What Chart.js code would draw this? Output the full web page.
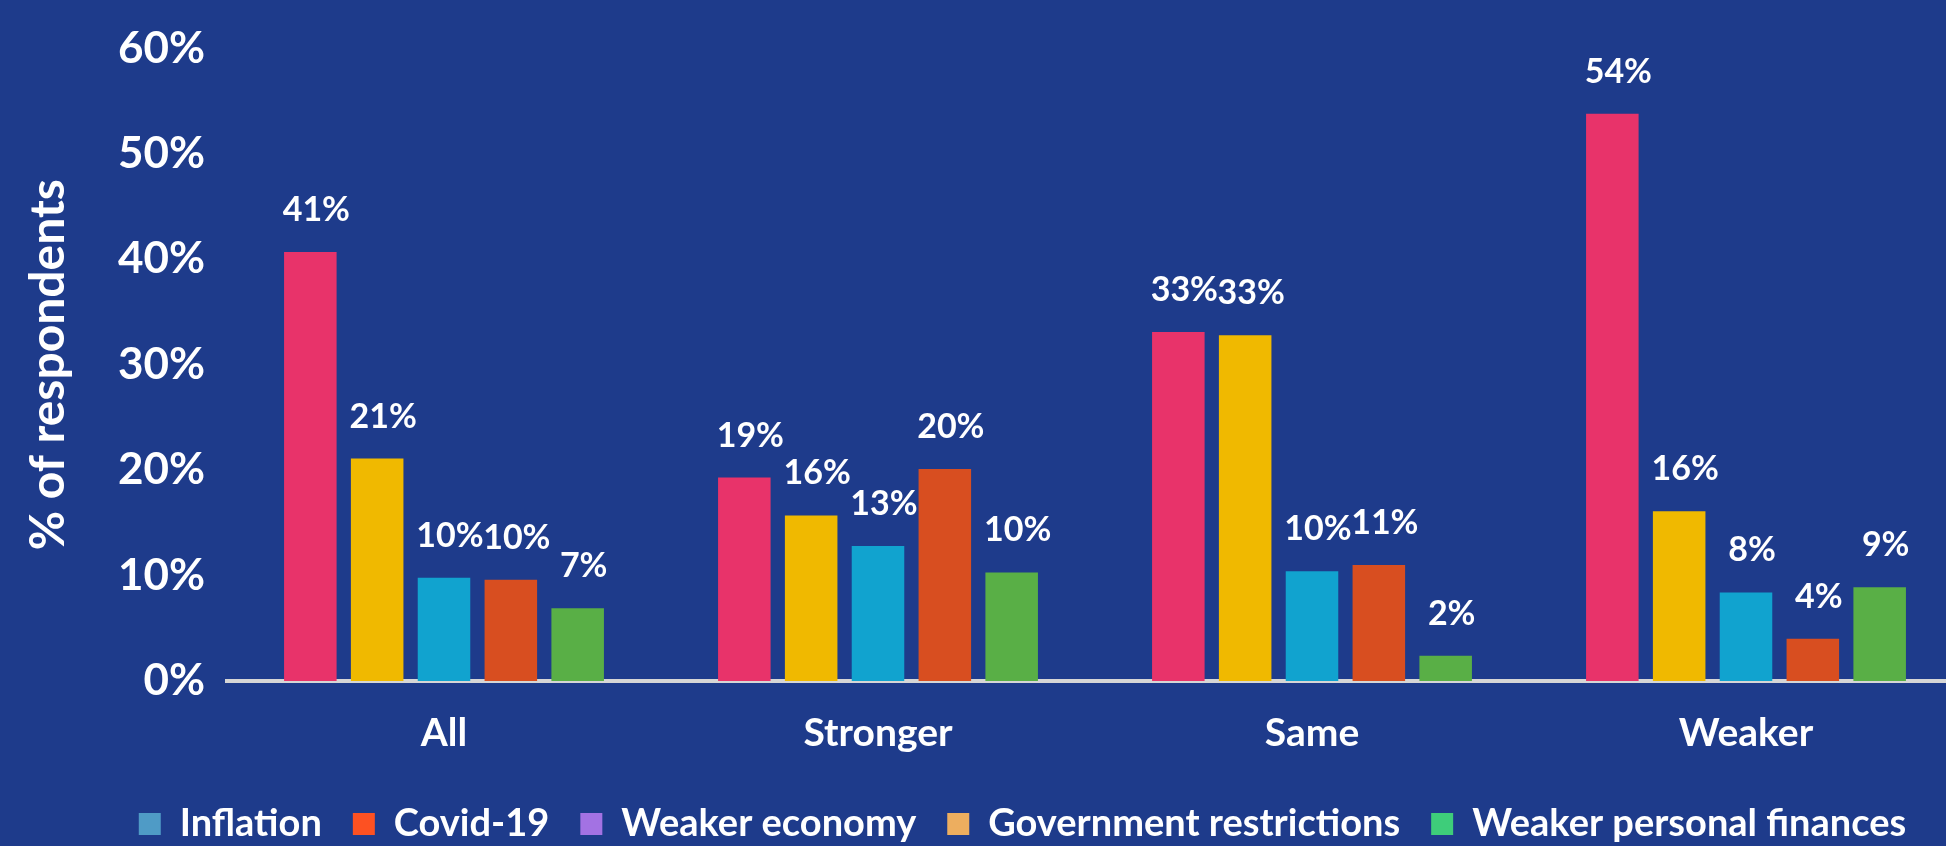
<!DOCTYPE html>
<html>
<head>
<meta charset="utf-8">
<script src="https://cdn.jsdelivr.net/npm/chart.js@4.4.1/dist/chart.umd.min.js"></script>
<style>
  html, body { margin: 0; padding: 0; background: #1e3b8b; overflow: hidden; }
  #wrap { width: 1946px; height: 846px; overflow: hidden; position: relative; }
  #chart { position: absolute; left: 0; top: 0; }
</style>
</head>
<body>
<div id="wrap"><canvas id="chart" width="1963" height="853"></canvas></div>
<script>
// Economic outlook groups
const categories = ['All', 'Stronger', 'Same', 'Weaker'];

// % of respondents naming each concern, per outlook group
const weakerEconomy = [40.7, 19.3, 33.1, 53.8];
const governmentRestrictions = [21.1, 15.7, 32.8, 16.1];
const inflation = [9.8, 12.8, 10.4, 8.4];
const covid19 = [9.6, 20.1, 11.0, 4.0];
const weakerPersonalFinances = [6.9, 10.3, 2.4, 8.9];

// Value axis
const yMin = 0;
const yMax = 60;
const yStep = 10;

// Legend entries, in the order they are listed under the chart
const legendOrder = ['Inflation', 'Covid-19', 'Weaker economy', 'Government restrictions', 'Weaker personal finances'];
const legendSwatch = {
  'Inflation': '#4f9bc6',
  'Covid-19': '#fd5122',
  'Weaker economy': '#a372e3',
  'Government restrictions': '#edae5f',
  'Weaker personal finances': '#3ecd7a'
};

const FONT = 'Lato';

// Percentage printed above every bar
const valueLabels = {
  id: 'valueLabels',
  afterDatasetsDraw(chart) {
    const ctx = chart.ctx;
    ctx.save();
    ctx.font = `bold 34px ${FONT}`;
    ctx.fillStyle = '#ffffff';
    ctx.textAlign = 'center';
    ctx.textBaseline = 'alphabetic';
    chart.data.datasets.forEach((ds, i) => {
      chart.getDatasetMeta(i).data.forEach((bar, j) => {
        ctx.fillText(Math.round(ds.data[j]) + '%', bar.x + 6, bar.y - 31);
      });
    });
    ctx.restore();
  }
};

// Nudge the legend row to the right of the canvas centre
const legendShift = {
  id: 'legendShift',
  afterLayout(chart) {
    const lg = chart.legend;
    if (lg) { lg.left += 36; lg.right += 36; }
  }
};

new Chart(document.getElementById('chart'), {
  type: 'bar',
  data: {
    labels: categories,
    datasets: [
      { label: 'Weaker economy', data: weakerEconomy, backgroundColor: '#e8336a' },
      { label: 'Government restrictions', data: governmentRestrictions, backgroundColor: '#f0b900' },
      { label: 'Inflation', data: inflation, backgroundColor: '#11a3cf' },
      { label: 'Covid-19', data: covid19, backgroundColor: '#d84e20' },
      { label: 'Weaker personal finances', data: weakerPersonalFinances, backgroundColor: '#59af46' }
    ]
  },
  options: {
    responsive: false,
    animation: false,
    devicePixelRatio: 1,
    datasets: { bar: { barPercentage: 0.786, categoryPercentage: 0.77, borderWidth: 0 } },
    layout: { padding: { top: 40, left: 10, right: 0, bottom: 0 } },
    scales: {
      x: {
        grid: { display: false, drawTicks: false },
        border: { display: true, color: '#d6d6d6', width: 4 },
        ticks: { color: '#ffffff', font: { family: FONT, weight: 'bold', size: 39 }, padding: 29 },
        afterFit(scale) { scale.height = 93; }
      },
      y: {
        min: yMin,
        max: yMax,
        grid: { display: false, drawTicks: false },
        border: { display: false },
        ticks: {
          stepSize: yStep,
          color: '#ffffff',
          font: { family: FONT, weight: 'bold', size: 44 },
          padding: 22,
          callback: (v) => v + '%'
        },
        title: {
          display: true,
          text: '% of respondents',
          color: '#ffffff',
          font: { family: FONT, weight: 'bold', size: 48 },
          padding: { top: 10, bottom: 0 }
        },
        afterFit(scale) { scale.width = 217; }
      }
    },
    plugins: {
      tooltip: { enabled: false },
      legend: {
        position: 'bottom',
        labels: {
          color: '#ffffff',
          font: { family: FONT, weight: 'bold', size: 38 },
          boxWidth: 22,
          boxHeight: 22,
          padding: 31,
          generateLabels(chart) {
            return legendOrder.map((name) => {
              const idx = chart.data.datasets.findIndex((d) => d.label === name);
              return {
                text: name,
                fillStyle: legendSwatch[name],
                strokeStyle: legendSwatch[name],
                lineWidth: 0,
                hidden: false,
                datasetIndex: idx,
                fontColor: '#ffffff'
              };
            });
          }
        }
      }
    }
  },
  plugins: [valueLabels, legendShift]
});
</script>
</body>
</html>
